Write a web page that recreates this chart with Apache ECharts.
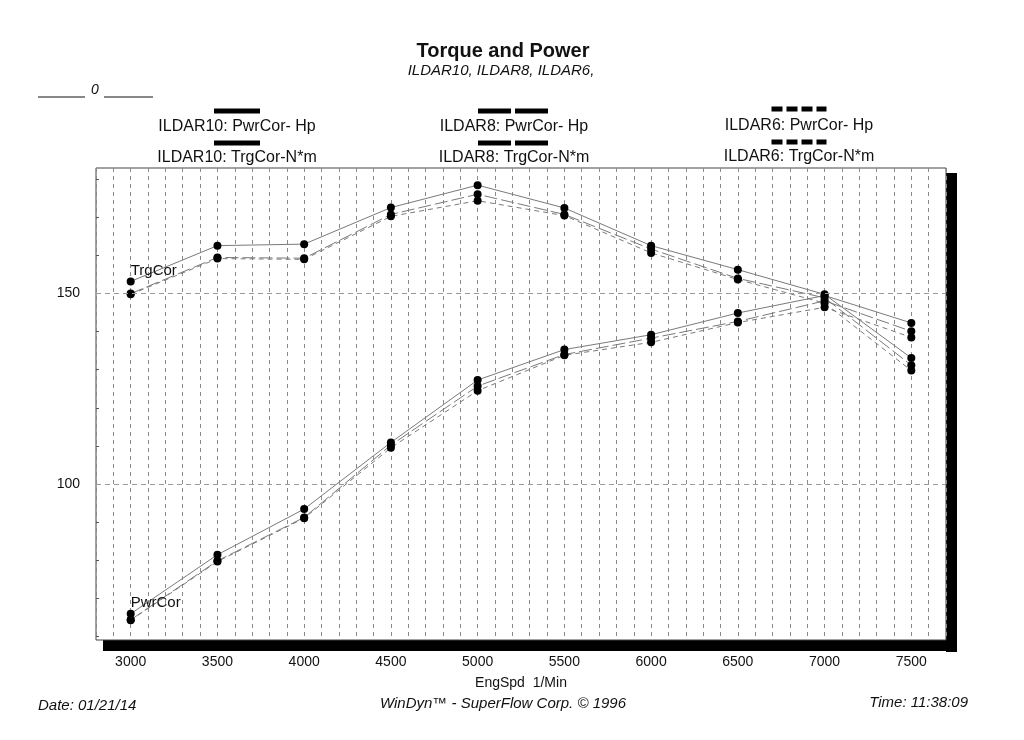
<!DOCTYPE html>
<html>
<head>
<meta charset="utf-8">
<script src="https://cdn.jsdelivr.net/npm/echarts@6/dist/echarts.min.js"></script>
<style>
html,body{margin:0;padding:0;background:#ffffff;}
#chart{width:1024px;height:740px;}
</style>
</head>
<body>
<div id="chart"></div>
<script>
// ---- data ----
const rpm = [3000, 3500, 4000, 4500, 5000, 5500, 6000, 6500, 7000, 7500];
const pwr10 = [65.9, 81.4, 93.4, 110.9, 127.3, 135.3, 139.2, 144.9, 149.5, 142.3];
const pwr8  = [64.3, 79.8, 91.2, 110.2, 125.7, 134.0, 138.3, 142.7, 148.1, 140.1];
const pwr6  = [64.2, 79.6, 91.0, 109.5, 124.5, 133.8, 137.2, 142.4, 146.4, 138.5];
const trq10 = [153.2, 162.6, 163.0, 172.6, 178.5, 172.5, 162.6, 156.3, 149.8, 133.1];
const trq8  = [150.0, 159.5, 159.3, 170.8, 176.1, 170.8, 161.7, 154.0, 148.9, 131.2];
const trq6  = [149.8, 159.2, 159.0, 170.3, 174.4, 170.5, 160.7, 153.7, 147.5, 129.8];
const xTickLabels = [3000, 3500, 4000, 4500, 5000, 5500, 6000, 6500, 7000, 7500];
const yTickLabels = [100, 150];
const yMinorTicks = [60, 70, 80, 90, 100, 110, 120, 130, 140, 150, 160, 170, 180];
const runNames = ['ILDAR10', 'ILDAR8', 'ILDAR6'];

const chart = echarts.init(document.getElementById('chart'));
const FONT = 'Liberation Sans, Arial, sans-serif';
const lineColor = '#7a7a7a';
const dashes = ['solid', [13, 4], [5, 4]];

function mk(name, vals, dashIdx, label) {
  const data = vals.map((v, i) => {
    const item = { value: [rpm[i], v] };
    if (i === 0 && label) {
      item.label = {
        show: true, formatter: label, position: [4, -14],
        fontFamily: FONT, fontSize: 15, color: '#111'
      };
    }
    return item;
  });
  return {
    name: name, type: 'line', data: data,
    symbol: 'circle', symbolSize: 8,
    itemStyle: { color: '#000' },
    lineStyle: { color: lineColor, width: 1, type: dashes[dashIdx] },
    label: { show: false },
    animation: false, z: 3
  };
}

const series = [
  mk('ILDAR10: PwrCor- Hp', pwr10, 0, 'PwrCor'),
  mk('ILDAR8: PwrCor- Hp', pwr8, 1),
  mk('ILDAR6: PwrCor- Hp', pwr6, 2),
  mk('ILDAR10: TrgCor-N*m', trq10, 0, 'TrgCor'),
  mk('ILDAR8: TrgCor-N*m', trq8, 1),
  mk('ILDAR6: TrgCor-N*m', trq6, 2)
];
series[0].markLine = {
  silent: true, symbol: 'none', animation: false,
  label: { show: false },
  lineStyle: { color: '#9a9a9a', type: [5, 4], width: 1 },
  data: yTickLabels.map(v => ({ yAxis: v }))
};

// legend graphics
const legendCols = [237, 514, 799];
const legendDash = [null, [33, 4], [11, 4]];
const graphics = [];
runNames.forEach((r, i) => {
  const cx = legendCols[i];
  const rows = [
    { ly: 111 - (i === 2 ? 2 : 0), ty: 127 - (i === 2 ? 1 : 0), text: r + ': PwrCor- Hp' },
    { ly: 143 - (i === 2 ? 1 : 0), ty: 158 - (i === 2 ? 1 : 0), text: r + ': TrgCor-N*m' }
  ];
  const half = i === 0 ? 23 : (i === 1 ? 36 : 27.5);
  rows.forEach(row => {
    graphics.push({
      type: 'line', silent: true,
      shape: { x1: cx - half, y1: row.ly, x2: cx + half, y2: row.ly },
      style: { stroke: '#000', lineWidth: 5, lineDash: legendDash[i] }
    });
    graphics.push({
      type: 'text', silent: true, x: cx, y: row.ty,
      style: { text: row.text, font: '16px ' + FONT, fill: '#111', textAlign: 'center', textVerticalAlign: 'middle' }
    });
  });
});
// shadow bars
graphics.push({ type: 'rect', silent: true, z: -1, shape: { x: 946, y: 173, width: 11, height: 479 }, style: { fill: '#000' } });
graphics.push({ type: 'rect', silent: true, z: -1, shape: { x: 103, y: 640, width: 854, height: 11 }, style: { fill: '#000' } });
// titles & footers
graphics.push({ type: 'text', silent: true, x: 503, y: 51, style: { text: 'Torque and Power', font: 'bold 20px ' + FONT, fill: '#111', textAlign: 'center', textVerticalAlign: 'middle' } });
graphics.push({ type: 'text', silent: true, x: 501, y: 71, style: { text: 'ILDAR10, ILDAR8, ILDAR6,', font: 'italic 15px ' + FONT, fill: '#111', textAlign: 'center', textVerticalAlign: 'middle' } });
graphics.push({ type: 'line', silent: true, shape: { x1: 38, y1: 97, x2: 85, y2: 97 }, style: { stroke: '#111', lineWidth: 1 } });
graphics.push({ type: 'line', silent: true, shape: { x1: 104, y1: 97, x2: 153, y2: 97 }, style: { stroke: '#111', lineWidth: 1 } });
graphics.push({ type: 'text', silent: true, x: 95, y: 90, style: { text: '0', font: 'italic 14px ' + FONT, fill: '#111', textAlign: 'center', textVerticalAlign: 'middle' } });
graphics.push({ type: 'text', silent: true, x: 38, y: 706, style: { text: 'Date: 01/21/14', font: 'italic 15px ' + FONT, fill: '#111', textAlign: 'left', textVerticalAlign: 'middle' } });
graphics.push({ type: 'text', silent: true, x: 503, y: 704, style: { text: 'WinDyn\u2122 - SuperFlow Corp. \u00a9 1996', font: 'italic 15px ' + FONT, fill: '#111', textAlign: 'center', textVerticalAlign: 'middle' } });
graphics.push({ type: 'text', silent: true, x: 968, y: 703, style: { text: 'Time: 11:38:09', font: 'italic 15px ' + FONT, fill: '#111', textAlign: 'right', textVerticalAlign: 'middle' } });

chart.setOption({
  backgroundColor: '#ffffff',
  animation: false,
  grid: { left: 96, right: 78, top: 168, bottom: 100, show: true, borderColor: '#444', borderWidth: 1, backgroundColor: '#fff', z: 0 },
  xAxis: {
    type: 'value', min: 2800, max: 7700, interval: 100,
    name: 'EngSpd  1/Min', nameLocation: 'middle', nameGap: 36,
    nameTextStyle: { fontFamily: FONT, fontSize: 14, color: '#111' },
    axisLine: { show: false },
    axisTick: { show: false },
    axisLabel: { customValues: xTickLabels, formatter: v => String(v), margin: 15, fontFamily: FONT, fontSize: 14, color: '#111' },
    splitLine: { show: true, lineStyle: { color: '#8a8a8a', type: [4, 4], width: 1 } }
  },
  yAxis: {
    type: 'value', min: 59, max: 183,
    axisLine: { show: false },
    axisTick: { show: true, customValues: yMinorTicks, inside: true, length: 3, lineStyle: { color: '#555' } },
    axisLabel: { customValues: yTickLabels, formatter: v => String(v), margin: 16, fontFamily: FONT, fontSize: 14, color: '#111' },
    splitLine: { show: false }
  },
  series: series,
  graphic: { elements: graphics }
});
</script>
</body>
</html>
